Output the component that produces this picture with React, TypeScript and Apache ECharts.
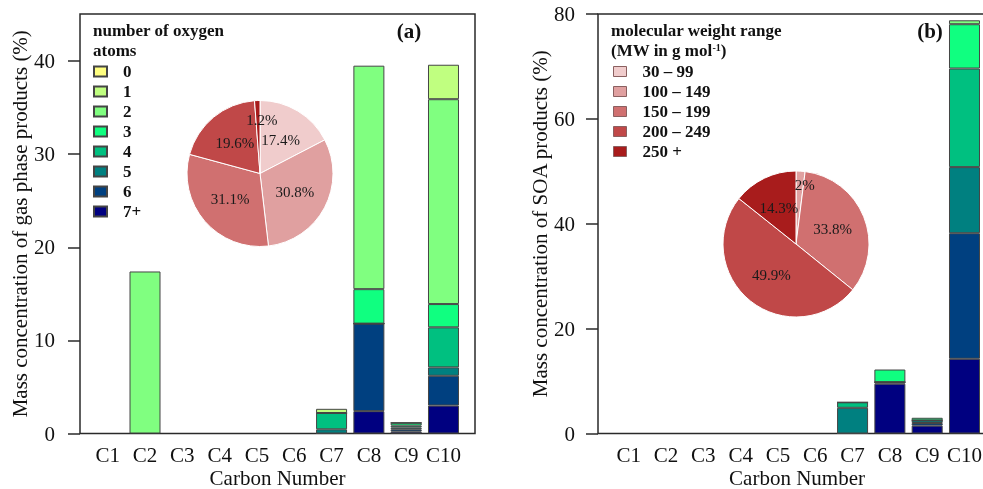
import React, { useEffect, useRef } from 'react';
import * as echarts from 'echarts';

const categories = ['C1', 'C2', 'C3', 'C4', 'C5', 'C6', 'C7', 'C8', 'C9', 'C10'];
const oxygenNames = ['0', '1', '2', '3', '4', '5', '6', '7+'];
const oxygenColors = ['#ffff80', '#c0ff80', '#80ff80', '#10ff80', '#00c080', '#008080', '#004080', '#000080'];

// (a) gas phase products, % by number of oxygen atoms, C1..C10
const gasO0 = [null, null, null, null, null, null, null, null, null, null];
const gasO1 = [null, null, null, null, null, null, 0.45, null, null, 3.7];
const gasO2 = [null, 17.4, null, null, null, null, 0, 24.0, 0, 22.0];
const gasO3 = [null, null, null, null, null, null, 0, 3.7, 0.3, 2.5];
const gasO4 = [null, null, null, null, null, null, 1.75, 0, 0.2, 4.3];
const gasO5 = [null, null, null, null, null, null, 0.45, 0, 0.2, 0.9];
const gasO6 = [null, null, null, null, null, null, 0, 9.4, 0.25, 3.2];
const gasO7 = [null, null, null, null, null, null, 0, 2.4, 0.2, 3.0];

// (b) SOA products
const soaO0 = [null, null, null, null, null, null, null, null, null, null];
const soaO1 = [null, null, null, null, null, null, null, null, null, null];
const soaO2 = [null, null, null, null, null, null, null, null, null, 0.75];
const soaO3 = [null, null, null, null, null, null, 0, 2.4, 0.5, 8.45];
const soaO4 = [null, null, null, null, null, null, 1.05, 0, 0, 18.8];
const soaO5 = [null, null, null, null, null, null, 4.9, 0, 0.5, 12.6];
const soaO6 = [null, null, null, null, null, null, 0, 0.3, 0.5, 23.95];
const soaO7 = [null, null, null, null, null, null, 0, 9.5, 1.5, 14.25];

const gasSeries = [gasO0, gasO1, gasO2, gasO3, gasO4, gasO5, gasO6, gasO7];
const soaSeries = [soaO0, soaO1, soaO2, soaO3, soaO4, soaO5, soaO6, soaO7];

// pies: molecular weight ranges
const mwNames = ['30 – 99', '100 – 149', '150 – 199', '200 – 249', '250 +'];
const mwColors = ['#f0cccc', '#e0a0a0', '#d07070', '#c04848', '#a81c1c'];
const gasPie = [17.4, 30.8, 31.1, 19.6, 1.2];
const soaPie = [0, 2, 33.8, 49.9, 14.3];

const gasTicks = [0, 10, 20, 30, 40];
const soaTicks = [0, 20, 40, 60, 80];

const FONT = '"Liberation Serif", "Times New Roman", serif';
const PIE_R = 73;
const SMALL = 5;

// position of a small slice's label, from the slice's own angle (clockwise from 12 o'clock)
function smallLabels(values: number[], center: number[], frac: number, dx: number) {
  const total = values.reduce((a, b) => a + b, 0);
  let acc = 0;
  const out: any[] = [];
  values.forEach((v) => {
    const mid = ((acc + v / 2) / total) * Math.PI * 2;
    acc += v;
    if (v > 0 && v < SMALL) {
      out.push({
        type: 'text', z: 100,
        x: center[0] + frac * PIE_R * Math.sin(mid) + dx,
        y: center[1] - frac * PIE_R * Math.cos(mid),
        style: { text: `${v}%`, fontSize: 15, fontFamily: FONT, fill: '#1a1a1a', align: 'center', verticalAlign: 'middle' },
      });
    }
  });
  return out;
}

export default function App() {
  const ref = useRef<HTMLDivElement>(null);

  useEffect(() => {
    document.body.style.margin = '0';
    const chart = echarts.init(ref.current!, null, { renderer: 'svg' });

    const frameGrid = (left: number, width: number) => ({
      left, top: 14, width, height: 419.5,
      show: true, borderColor: '#2a2a2a', borderWidth: 1.5,
      backgroundColor: 'transparent', outerBoundsMode: 'none', containLabel: false,
    });
    const barGrid = (left: number) => ({
      left, top: 14, width: 373.1, height: 419.5, outerBoundsMode: 'none', containLabel: false,
    });

    const frameX = (gridIndex: number) => ({
      gridIndex, type: 'value', min: 0, max: 1,
      axisLine: { show: false }, axisTick: { show: false }, axisLabel: { show: false }, splitLine: { show: false },
      name: 'Carbon Number', nameLocation: 'middle', nameGap: 34,
      nameTextStyle: { fontSize: 21, color: '#111', fontFamily: FONT, lineHeight: 21 },
    });
    const catX = (gridIndex: number) => ({
      gridIndex, type: 'category', data: categories,
      axisLine: { show: false }, axisTick: { show: false },
      axisLabel: { fontSize: 21, color: '#111', margin: 11, fontFamily: FONT, interval: 0 },
    });
    const frameY = (gridIndex: number, max: number, ticks: number[], name: string, margin: number, nameGap: number) => ({
      gridIndex, type: 'value', min: 0, max,
      axisLine: { show: false },
      axisTick: { show: true, inside: false, length: 12, customValues: ticks, lineStyle: { color: '#2a2a2a', width: 1.5 } },
      axisLabel: { fontSize: 21, color: '#111', margin, customValues: ticks, fontFamily: FONT },
      splitLine: { show: false },
      name, nameLocation: 'middle', nameGap, nameRotate: 90,
      nameTextStyle: { fontSize: 21, color: '#111', fontFamily: FONT },
    });
    const hiddenY = (gridIndex: number, max: number) => ({ gridIndex, type: 'value', min: 0, max, show: false });

    const bars = (data: (number | null)[][], xi: number, yi: number, stack: string) =>
      oxygenNames.map((_, k) => k).reverse().map((k) => ({
        type: 'bar', name: oxygenNames[k], stack, xAxisIndex: xi, yAxisIndex: yi,
        barWidth: 31, data: data[k].map((v) => (v === null ? '-' : v)),
        itemStyle: { color: oxygenColors[k], borderColor: '#454545', borderWidth: 1 },
      }));

    const pie = (values: number[], center: number[]) => ({
      type: 'pie', center, radius: PIE_R, startAngle: 90, clockwise: true,
      avoidLabelOverlap: false,
      label: {
        show: true, position: 'inside', fontSize: 15, color: '#1a1a1a', fontFamily: FONT,
        formatter: (p: any) => (p.value >= SMALL ? `${p.value}%` : ''),
      },
      labelLine: { show: false },
      itemStyle: { borderColor: '#ffffff', borderWidth: 1 },
      data: values.map((v, i) => ({ name: mwNames[i], value: v, itemStyle: { color: mwColors[i] } })),
    });

    const legendText = { fontSize: 17, fontWeight: 'bold', color: '#111', fontFamily: FONT, padding: [0, 0, 0, 11] };

    const option: any = {
      animation: false,
      textStyle: { fontFamily: FONT },
      grid: [frameGrid(80, 395), barGrid(89.05), frameGrid(598, 398), barGrid(610.05)],
      xAxis: [frameX(0), catX(1), frameX(2), catX(3)],
      yAxis: [
        frameY(0, 45.05, gasTicks, 'Mass concentration of gas phase products (%)', 25, 49),
        hiddenY(1, 45.05),
        frameY(2, 80, soaTicks, 'Mass concentration of SOA products (%)', 23, 47),
        hiddenY(3, 80),
      ],
      legend: [
        {
          data: oxygenNames, orient: 'vertical', left: 93, top: 63, padding: 0,
          itemWidth: 13, itemHeight: 10, itemGap: 3, icon: 'rect', selectedMode: false,
          textStyle: legendText,
        },
        {
          data: mwNames, orient: 'vertical', left: 613, top: 63, padding: 0,
          itemWidth: 13, itemHeight: 10, itemGap: 3, icon: 'rect', selectedMode: false,
          itemStyle: { borderColor: '#8a6060', borderWidth: 1 },
          textStyle: legendText,
        },
      ],
      graphic: [
        { type: 'text', left: 93, top: 22, style: { text: 'number of oxygen', fontSize: 17, fontWeight: 'bold', fontFamily: FONT, fill: '#111' } },
        { type: 'text', left: 93, top: 42, style: { text: 'atoms', fontSize: 17, fontWeight: 'bold', fontFamily: FONT, fill: '#111' } },
        { type: 'text', left: 611, top: 22, style: { text: 'molecular weight range', fontSize: 17, fontWeight: 'bold', fontFamily: FONT, fill: '#111' } },
        {
          type: 'text', left: 611, top: 42,
          style: {
            text: '(MW in g mol{sup|-1})', fontSize: 17, fontWeight: 'bold', fontFamily: FONT, fill: '#111',
            rich: { sup: { fontSize: 10, fontWeight: 'bold', fontFamily: FONT, verticalAlign: 'top', lineHeight: 10 } },
          },
        },
        { type: 'text', x: 409, y: 31, style: { text: '(a)', fontSize: 21, fontWeight: 'bold', fontFamily: FONT, fill: '#111', align: 'center', verticalAlign: 'middle' } },
        { type: 'text', x: 930, y: 31, style: { text: '(b)', fontSize: 21, fontWeight: 'bold', fontFamily: FONT, fill: '#111', align: 'center', verticalAlign: 'middle' } },
        ...smallLabels(gasPie, [260, 173.5], 0.73, 4),
        ...smallLabels(soaPie, [796, 244], 0.81, 5),
      ],
      series: [
        ...bars(gasSeries, 1, 1, 'gas'),
        ...bars(soaSeries, 3, 3, 'soa'),
        pie(gasPie, [260, 173.5]),
        pie(soaPie, [796, 244]),
      ],
    };

    chart.setOption(option);
    return () => chart.dispose();
  }, []);

  return <div ref={ref} style={{ position: 'fixed', left: 0, top: 0, width: 983, height: 489 }} />;
}
